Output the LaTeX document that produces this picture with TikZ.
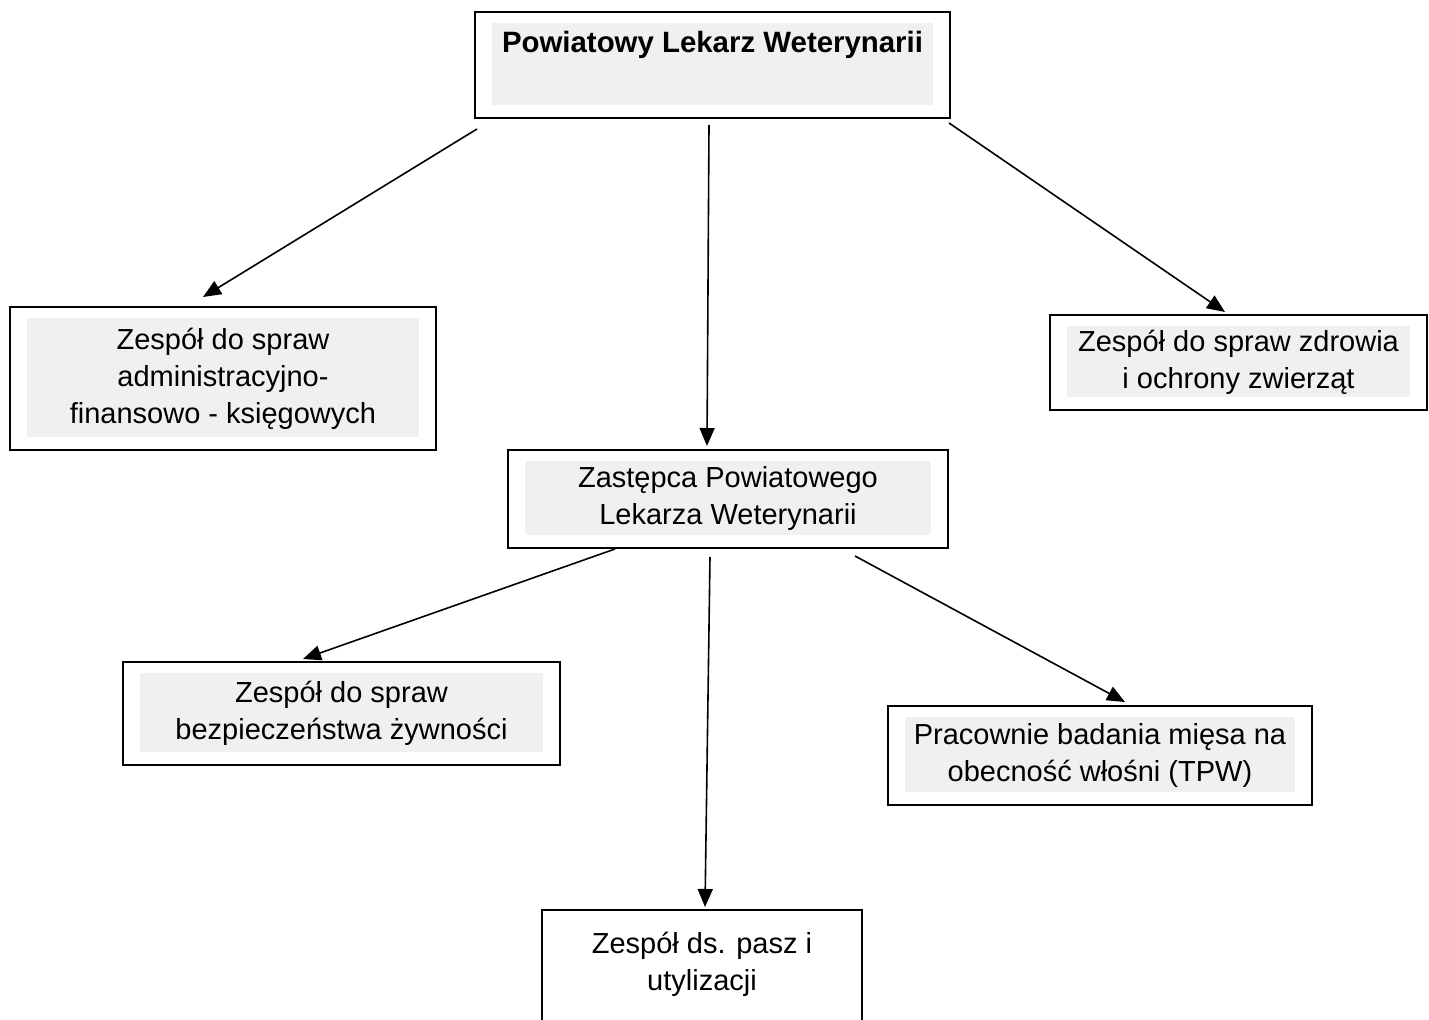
\documentclass[tikz,border=0pt]{standalone}
\usepackage{fontspec}
\setmainfont{Liberation Sans}
\usetikzlibrary{arrows.meta}
\definecolor{panel}{HTML}{F0F0F0}
\begin{document}
\begin{tikzpicture}
  [x=0.5pt,y=-0.5pt,every node/.style={rectangle,draw,line width=1pt,inner sep=0pt,align=center,
   font=\fontsize{14.5}{18.5}\selectfont}]
  \tikzstyle{shaded} = [path picture={\fill[panel] ([xshift=8.5pt,yshift=6.5pt]path picture bounding box.south west)
     rectangle ([xshift=-8.5pt,yshift=-5.5pt]path picture bounding box.north east);}]
  \tikzstyle{link} = [line width=0.8pt,-{Triangle[length=9pt,width=7.5pt]}]
  \useasboundingbox (0,0) rectangle (1429,1020);
  \node[shaded,minimum width=237.5pt,minimum height=53pt,font=\fontsize{14.7}{18.5}\selectfont\bfseries]
     (plw) at (712.5,65) {Powiatowy Lekarz Weterynarii\\[5pt]~};
  \node[shaded,minimum width=213pt,minimum height=71.5pt] (zaf) at (223,378.5)
     {Zespół do spraw\\administracyjno-\\finansowo - księgowych};
  \node[shaded,minimum width=188.5pt,minimum height=47.5pt] (zzo) at (1238.5,362.5)
     {Zespół do spraw zdrowia\\i ochrony zwierząt};
  \node[shaded,minimum width=220pt,minimum height=49pt] (zplw) at (728,499)
     {Zastępca Powiatowego\\Lekarza Weterynarii};
  \node[shaded,minimum width=218.5pt,minimum height=51.5pt] (zbz) at (341.5,713.5)
     {Zespół do spraw\\bezpieczeństwa żywności};
  \node[shaded,minimum width=212pt,minimum height=49.5pt] (tpw) at (1100,755.5)
     {Pracownie badania mięsa na\\obecność włośni (TPW)};
  \node[minimum width=160pt,minimum height=69.5pt] (zpu) at (702,979.5)
     {Zespół ds. pasz i\\utylizacji\\~};
\foreach \source/\ds/\dest/\dd in {plw.south west/{3,10}/zaf.north/{-20,-9},
    plw.south/{-3.5,6}/zplw.north/{-21,-3},plw.south east/{-2,4}/zzo.north/{-13.5,-2},
    zplw.south/{-113,0}/zbz.north/{-38.5,-2},zplw.south/{-18,8}/zpu.north/{3,-2},
    zplw.south/{127,7}/tpw.north/{25,-3}}
   \draw[link] ([shift={(\ds)}]\source) -- ([shift={(\dd)}]\dest);
\end{tikzpicture}
\end{document}
